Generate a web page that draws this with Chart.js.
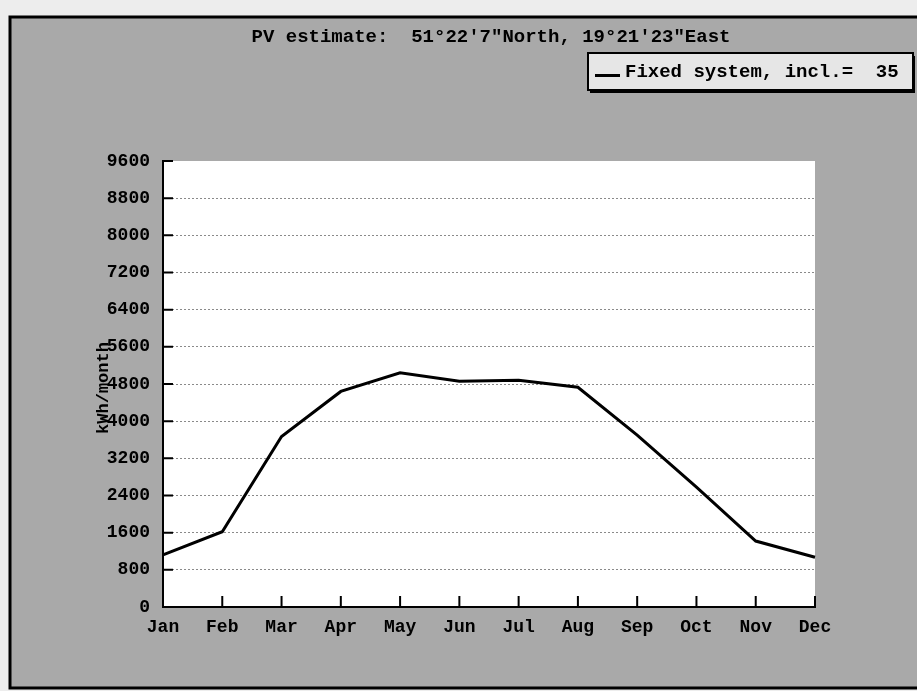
<!DOCTYPE html>
<html>
<head>
<meta charset="utf-8">
<script src="https://cdn.jsdelivr.net/npm/chart.js@4.4.1/dist/chart.umd.min.js"></script>
<style>
  html, body { margin: 0; padding: 0; background: #ededed; }
</style>
</head>
<body>
<canvas id="pv" width="917" height="691"></canvas>
<script>
// values
const months = ["Jan", "Feb", "Mar", "Apr", "May", "Jun", "Jul", "Aug", "Sep", "Oct", "Nov", "Dec"];
const monthlyKwh = [1120, 1620, 3670, 4640, 5040, 4860, 4880, 4730, 3700, 2580, 1420, 1070];
const yMin = 0;
const yMax = 9600;
const yStep = 800;

const titleText = 'PV estimate:  51°22\'7"North, 19°21\'23"East';
const seriesLabel = "Fixed system, incl.=  35";
const yTitle = "kWh/month";

const mono = "'Liberation Mono', 'DejaVu Sans Mono', monospace";
Chart.defaults.font.family = mono;
Chart.defaults.color = "#000";

const decor = {
  id: "decor",
  beforeDraw(chart) {
    const c = chart.ctx;
    const { left, top, right, bottom } = chart.chartArea;
    c.save();
    c.fillStyle = "#ededed";
    c.fillRect(0, 0, chart.width, chart.height);
    c.fillStyle = "#a9a9a9";
    c.fillRect(10, 17, chart.width - 10, 671);
    c.strokeStyle = "#000";
    c.lineWidth = 3;
    c.beginPath();
    c.moveTo(chart.width, 17);
    c.lineTo(10, 17);
    c.lineTo(10, 688);
    c.lineTo(chart.width, 688);
    c.stroke();
    c.fillStyle = "#fff";
    c.fillRect(left, top, right - left, bottom - top);
    c.restore();
  },
  afterDraw(chart) {
    const c = chart.ctx;
    const { left, bottom } = chart.chartArea;
    const xs = chart.scales.x, ys = chart.scales.y;
    c.save();
    // inward tick marks
    c.strokeStyle = "#000";
    c.lineWidth = 2;
    c.beginPath();
    ys.ticks.forEach(t => {
      const y = ys.getPixelForValue(t.value);
      c.moveTo(left, y);
      c.lineTo(left + 10, y);
    });
    months.forEach((m, i) => {
      const x = xs.getPixelForValue(i);
      c.moveTo(x, bottom);
      c.lineTo(x, bottom - 11);
    });
    c.stroke();

    // title
    c.fillStyle = "#000";
    c.font = "bold 19px " + mono;
    c.textAlign = "center";
    c.textBaseline = "middle";
    c.fillText(titleText, 491, 37);

    // legend box
    const lx = 588, ly = 53, lw = 325, lh = 37;
    c.fillStyle = "#000";
    c.fillRect(lx + 2, ly + 3, lw, lh);
    c.fillStyle = "#e6e6e6";
    c.fillRect(lx, ly, lw, lh);
    c.lineWidth = 2;
    c.strokeRect(lx, ly, lw, lh);
    c.fillStyle = "#000";
    c.fillRect(lx + 7, ly + 21, 25, 3);
    c.textAlign = "left";
    c.fillText(chart.data.datasets[0].label, lx + 37, ly + 19);

    // rotated axis title, overlapping the tick labels as in the original
    c.font = "bold 17px " + mono;
    c.translate(104, (chart.chartArea.top + bottom) / 2 + 4);
    c.rotate(-Math.PI / 2);
    c.textAlign = "center";
    c.fillText(yTitle, 0, 0);
    c.restore();
  }
};

new Chart(document.getElementById("pv"), {
  type: "line",
  data: {
    labels: months,
    datasets: [{
      label: seriesLabel,
      data: monthlyKwh,
      borderColor: "#000",
      borderWidth: 3,
      pointRadius: 0,
      tension: 0,
      fill: false
    }]
  },
  options: {
    responsive: false,
    animation: false,
    layout: { padding: { top: 161, right: 102, left: 0, bottom: 0 } },
    plugins: {
      legend: { display: false },
      title: { display: false },
      tooltip: { enabled: false }
    },
    scales: {
      x: {
        offset: false,
        grid: { display: false, drawTicks: false },
        border: { color: "#000", width: 2 },
        ticks: {
          autoSkip: false,
          maxRotation: 0,
          padding: 10,
          font: { size: 18, weight: "bold" }
        },
        afterFit: s => { s.height = 84; }
      },
      y: {
        min: yMin,
        max: yMax,
        grid: {
          drawTicks: false,
          lineWidth: 1,
          color: ctx => (ctx.tick && ctx.tick.value === yMax ? "rgba(0,0,0,0)" : "#8a8a8a")
        },
        border: { color: "#000", width: 2, dash: [2, 2] },
        ticks: {
          stepSize: yStep,
          padding: 13,
          font: { size: 18, weight: "bold" },
          callback: v => String(v)
        },
        afterFit: s => { s.width = 163; }
      }
    }
  },
  plugins: [decor]
});
</script>
</body>
</html>
